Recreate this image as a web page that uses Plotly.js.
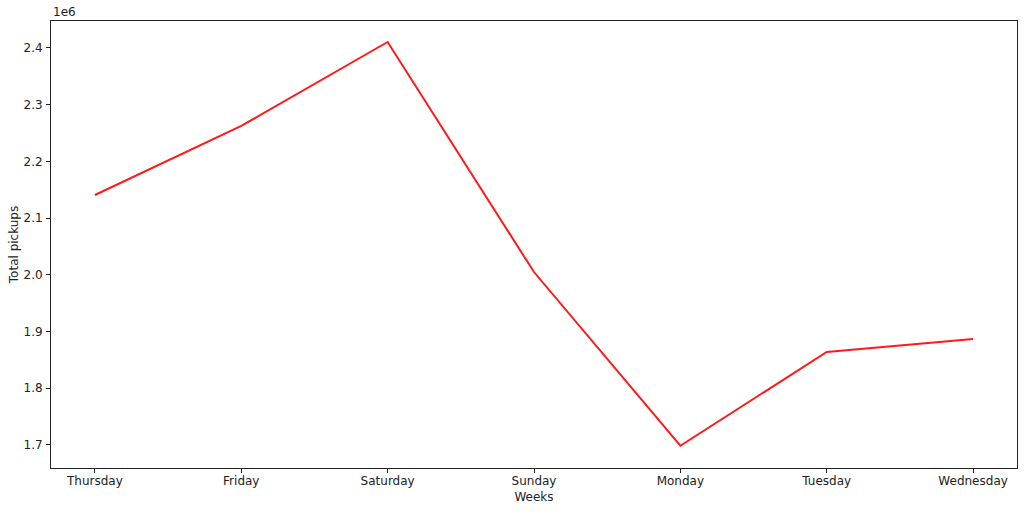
<!DOCTYPE html>
<html>
<head>
<meta charset="utf-8">
<script src="https://cdn.plot.ly/plotly-3.0.1.min.js"></script>
<style>html,body{margin:0;padding:0;background:#fff;}#chart{width:1024px;height:512px;}</style>
</head>
<body>
<div id="chart"></div>
<script>
const weekdays = ["Thursday","Friday","Saturday","Sunday","Monday","Tuesday","Wednesday"];
const totalPickups = [2140600, 2262400, 2410600, 2004700, 1698200, 1863600, 1886500];
const yTickVals = [1.7, 1.8, 1.9, 2.0, 2.1, 2.2, 2.3, 2.4];
const yTickText = ["1.7","1.8","1.9","2.0","2.1","2.2","2.3","2.4"];
const scale = 1e6;

const font = {family: "DejaVu Sans", size: 12, color: "#222"};
const trace = {
  x: weekdays.map((d,i)=>i),
  y: totalPickups.map(v => v / scale),
  type: "scatter",
  mode: "lines",
  line: {color: "#ff1a1a", width: 2},
  hoverinfo: "skip"
};
const layout = {
  width: 1024, height: 512,
  margin: {l: 51, r: 7, t: 21, b: 44},
  paper_bgcolor: "#fff", plot_bgcolor: "#fff",
  font: font,
  showlegend: false,
  xaxis: {
    range: [-0.3, 6.3],
    tickvals: weekdays.map((d,i)=>i),
    ticktext: weekdays,
    ticks: "outside", ticklen: 4, tickcolor: "#222", tickwidth: 1,
    ticklabelstandoff: -2,
    showgrid: false, zeroline: false,
    showline: true, linecolor: "#222", linewidth: 1, mirror: true,
    tickfont: font,
    title: {text: "Weeks", font: font, standoff: 5}
  },
  yaxis: {
    range: [1.6589, 2.4476],
    tickvals: yTickVals,
    ticktext: yTickText,
    ticks: "outside", ticklen: 4, tickcolor: "#222", tickwidth: 1,
    ticklabelstandoff: 1,
    showgrid: false, zeroline: false,
    showline: true, linecolor: "#222", linewidth: 1, mirror: true,
    tickfont: font,
    title: {text: "Total pickups", font: font, standoff: 2}
  },
  annotations: [{
    text: "1e6", xref: "paper", yref: "paper", x: 0, y: 1,
    xanchor: "left", yanchor: "bottom", showarrow: false,
    font: font, yshift: 0
  }]
};
Plotly.newPlot("chart", [trace], layout, {displayModeBar: false, staticPlot: true});
</script>
</body>
</html>
